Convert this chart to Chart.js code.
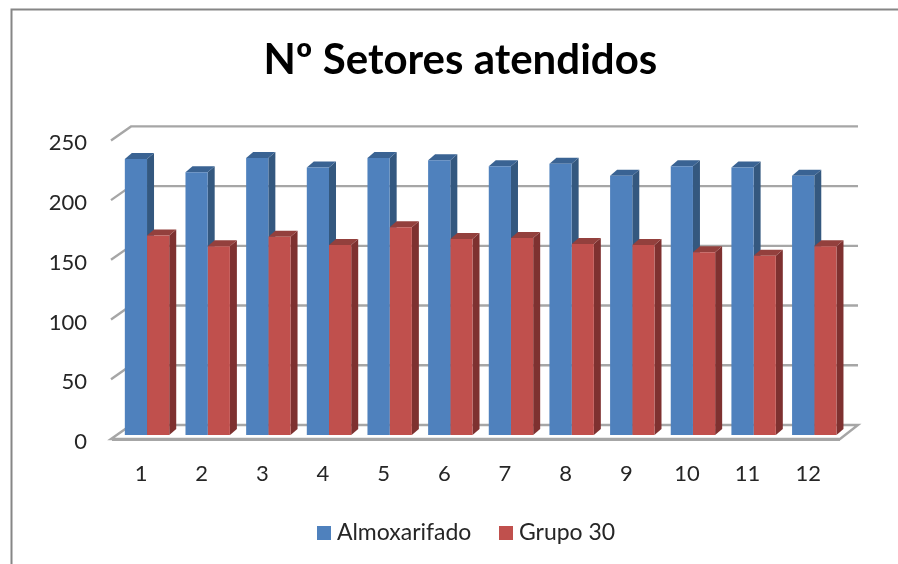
<!DOCTYPE html>
<html><head><meta charset="utf-8">
<style>html,body{margin:0;padding:0;background:#fff}canvas{display:block;filter:blur(0.5px)}#w{width:898px;height:564px}</style>
<script src="https://cdn.jsdelivr.net/npm/chart.js@4"></script>
</head><body><div id="w"><canvas id="c" width="898" height="564"></canvas></div>
<script>
const categories=['1','2','3','4','5','6','7','8','9','10','11','12'];
const almoxarifado=[231,220,232,224,232,230,225,227,217,225,224,217];
const grupo30=[167,158,166,159,174,164,165,160,159,153,150,158];
const yTicks=[0,50,100,150,200,250];

const WALL={dx:20,back:-10,front:4,x0:111,x1:858,x2:840};
const DEPTH={dx:7,dy:-6};
const SIDE=['#34587f','#7e3130'];
const TOP=['#3a6393','#93403d'];
const FILL=['#4f81bd','#c0504d'];

function swatch(col){const k=document.createElement('canvas');k.width=14;k.height=14;const x=k.getContext('2d');x.fillStyle=col;x.fillRect(0,0,14,14);return k;}
const SW=FILL.map(swatch);

const scene={id:'scene',
 afterLayout(ch){
  ch.titleBlock.left+=26;ch.titleBlock.right+=26;
  ch.legend.left+=35;ch.legend.right+=35;
  ch.legend.top-=10;ch.legend.bottom-=10;
 },
 beforeDraw(ch){const c=ch.ctx;c.save();c.fillStyle='#fff';c.fillRect(0,0,ch.width,ch.height);
  c.strokeStyle='#868686';c.lineWidth=2;c.beginPath();c.moveTo(11.5,564);c.lineTo(11.5,9.5);c.lineTo(898,9.5);c.stroke();c.restore();},
 beforeDatasetsDraw(ch){const c=ch.ctx,y=ch.scales.y;c.save();
  const p0=y.getPixelForValue(0);
  c.fillStyle='#fff';c.strokeStyle='#a6a6a6';c.lineWidth=2.4;
  c.beginPath();c.moveTo(WALL.x0,p0+WALL.front);c.lineTo(WALL.x0+WALL.dx,p0+WALL.back);c.lineTo(WALL.x1,p0+WALL.back);c.lineTo(WALL.x2,p0+WALL.front);c.closePath();c.fill();c.stroke();
  c.lineWidth=3;c.beginPath();c.moveTo(WALL.x0+1,p0+WALL.front+.5);c.lineTo(WALL.x2,p0+WALL.front+.5);c.stroke();
  c.lineWidth=2.4;
  yTicks.filter(v=>v>0).forEach(v=>{const p=y.getPixelForValue(v);
   c.beginPath();c.moveTo(WALL.x0,p+WALL.front);c.lineTo(WALL.x0+WALL.dx,p+WALL.back);c.lineTo(WALL.x1,p+WALL.back);c.stroke();});
  ch.data.datasets.forEach((d,i)=>{ch.getDatasetMeta(i).data.forEach(b=>{
   const l=b.x-b.width/2,r=b.x+b.width/2,t=b.y,bt=b.base;
   c.fillStyle=SIDE[i];c.beginPath();c.moveTo(r,t);c.lineTo(r+DEPTH.dx,t+DEPTH.dy);c.lineTo(r+DEPTH.dx,bt+DEPTH.dy);c.lineTo(r,bt);c.closePath();c.fill();
   c.fillStyle=TOP[i];c.beginPath();c.moveTo(l,t);c.lineTo(l+DEPTH.dx,t+DEPTH.dy);c.lineTo(r+DEPTH.dx,t+DEPTH.dy);c.lineTo(r,t);c.closePath();c.fill();
  });});
  c.restore();}
};

new Chart(document.getElementById('c'),{
 type:'bar',
 plugins:[scene],
 data:{labels:categories,datasets:[
  {label:'Almoxarifado',data:almoxarifado,backgroundColor:FILL[0]},
  {label:'Grupo 30',data:grupo30,backgroundColor:FILL[1]}]},
 options:{responsive:false,animation:false,
  layout:{padding:{left:24,right:53.4,top:35,bottom:0}},
  datasets:{bar:{barPercentage:1,categoryPercentage:0.732,borderWidth:0}},
  plugins:{
   tooltip:{enabled:false},
   title:{display:true,text:'Nº Setores atendidos',color:'#000',font:{family:'Lato',size:42,weight:'bold'},padding:{top:0,bottom:51}},
   legend:{position:'bottom',labels:{color:'#262626',font:{family:'Lato',size:23},usePointStyle:true,pointStyleWidth:2,boxHeight:13,padding:34,
     generateLabels(ch){return Chart.defaults.plugins.legend.labels.generateLabels(ch).map((it,i)=>({...it,pointStyle:SW[i]}));}}}
  },
  scales:{
   x:{grid:{display:false},border:{display:false},
      ticks:{color:'#262626',font:{family:'Lato',size:22},padding:18,labelOffset:-6,maxRotation:0},
      afterFit(s){s.height=62;}},
   y:{min:0,max:250,grid:{display:false,drawTicks:false},border:{display:false},
      ticks:{stepSize:50,color:'#262626',font:{family:'Lato',size:22},padding:29.7,labelOffset:7},
      afterFit(s){s.width=92.7;}}
  }
 }
});
</script></body></html>
